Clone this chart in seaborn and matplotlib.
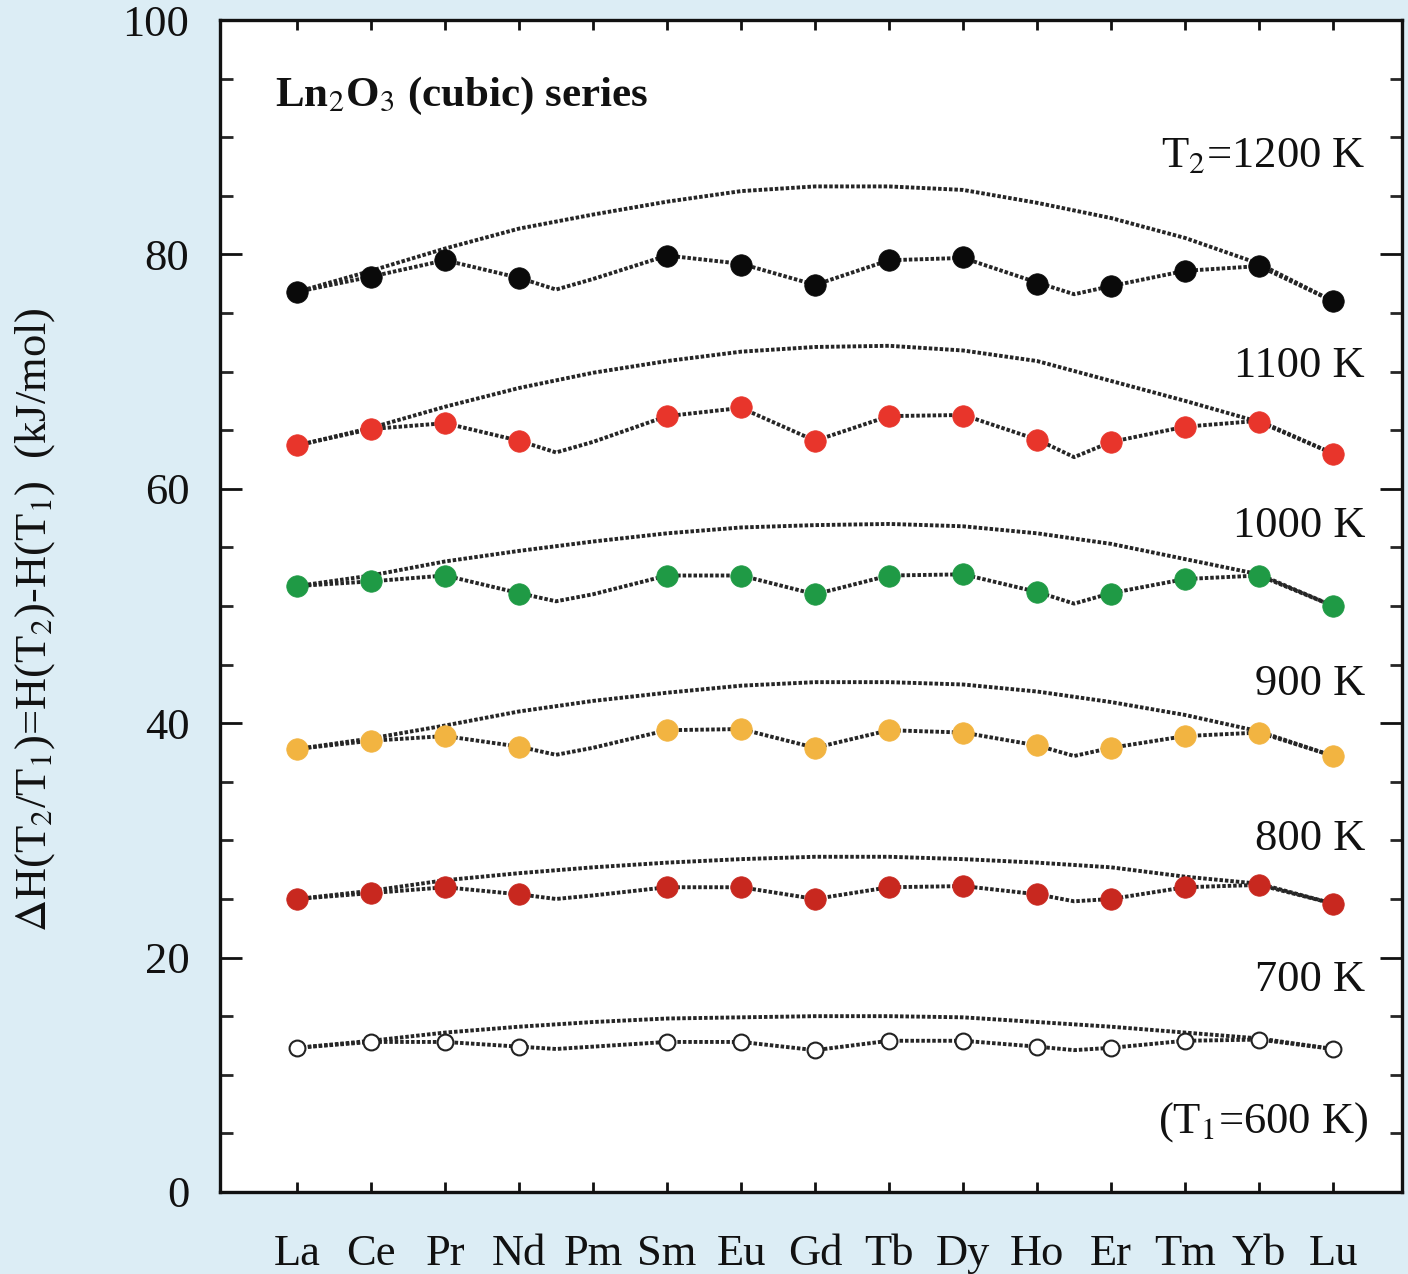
import numpy as np
import pandas as pd
import matplotlib
matplotlib.use("Agg")
import matplotlib.pyplot as plt
from matplotlib.ticker import FixedLocator, MultipleLocator
import seaborn as sns

# Lanthanide series (Pm has no measured point)
elements = ["La", "Ce", "Pr", "Nd", "Pm", "Sm", "Eu", "Gd",
            "Tb", "Dy", "Ho", "Er", "Tm", "Yb", "Lu"]
temps = [1200, 1100, 1000, 900, 800, 700]

# Enthalpy increments H(T2)-H(600 K), kJ/mol
pts_1200 = [76.8, 78.1, 79.5, 78.0, np.nan, 79.9, 79.1, 77.4, 79.5, 79.8, 77.5, 77.3, 78.6, 79.0, 76.0]
pts_1100 = [63.7, 65.1, 65.6, 64.1, np.nan, 66.2, 67.0, 64.1, 66.2, 66.2, 64.2, 64.0, 65.3, 65.7, 63.0]
pts_1000 = [51.7, 52.1, 52.6, 51.0, np.nan, 52.6, 52.6, 51.0, 52.6, 52.7, 51.2, 51.0, 52.3, 52.6, 50.0]
pts_900 = [37.8, 38.5, 38.9, 38.0, np.nan, 39.4, 39.5, 37.9, 39.4, 39.2, 38.1, 37.9, 38.9, 39.2, 37.2]
pts_800 = [25.0, 25.5, 26.0, 25.4, np.nan, 26.0, 26.0, 25.0, 26.0, 26.1, 25.4, 25.0, 26.0, 26.2, 24.6]
pts_700 = [12.3, 12.8, 12.8, 12.4, np.nan, 12.8, 12.8, 12.1, 12.9, 12.9, 12.4, 12.3, 12.9, 13.0, 12.2]

# Tetrad-effect fit, evaluated at the element positions and the tetrad boundaries
fit_x = [0, 1, 2, 3, 3.5, 4, 5, 6, 7, 8, 9, 10, 10.5, 11, 12, 13, 14]
fit_1200 = [76.8, 78.1, 79.5, 78.0, 77.0, 77.9, 79.9, 79.2, 77.4, 79.5, 79.7, 77.6, 76.6, 77.3, 78.6, 79.0, 76.0]
fit_1100 = [63.7, 65.1, 65.6, 64.1, 63.1, 64.0, 66.2, 66.9, 64.1, 66.2, 66.3, 64.2, 62.7, 64.0, 65.3, 65.8, 63.0]
fit_1000 = [51.7, 52.1, 52.6, 51.1, 50.4, 51.0, 52.6, 52.6, 51.0, 52.6, 52.7, 51.2, 50.2, 51.1, 52.3, 52.6, 50.0]
fit_900 = [37.8, 38.5, 38.9, 38.0, 37.3, 37.9, 39.4, 39.5, 37.9, 39.4, 39.2, 38.1, 37.2, 37.9, 38.9, 39.2, 37.2]
fit_800 = [25.0, 25.5, 26.0, 25.4, 25.0, 25.3, 26.0, 26.0, 25.0, 26.0, 26.1, 25.4, 24.8, 25.0, 26.0, 26.2, 24.6]
fit_700 = [12.3, 12.8, 12.8, 12.4, 12.2, 12.4, 12.8, 12.8, 12.1, 12.9, 12.9, 12.4, 12.1, 12.3, 12.9, 13.0, 12.2]

# Smooth baseline (no tetrad effect) across the whole series
base_1200 = [76.8, 78.6, 80.5, 82.2, 83.4, 84.5, 85.4, 85.8, 85.8, 85.5, 84.4, 83.1, 81.4, 79.2, 76.0]
base_1100 = [63.7, 65.2, 67.0, 68.6, 69.9, 70.9, 71.7, 72.1, 72.2, 71.8, 70.9, 69.2, 67.5, 65.7, 63.0]
base_1000 = [51.7, 52.6, 53.8, 54.7, 55.5, 56.2, 56.7, 56.9, 57.0, 56.8, 56.2, 55.3, 54.0, 52.7, 50.0]
base_900 = [37.8, 38.7, 39.8, 41.0, 41.9, 42.6, 43.2, 43.5, 43.5, 43.3, 42.7, 41.8, 40.7, 39.3, 37.2]
base_800 = [25.0, 25.7, 26.6, 27.2, 27.7, 28.1, 28.4, 28.6, 28.6, 28.4, 28.1, 27.7, 26.9, 26.3, 24.6]
base_700 = [12.3, 12.9, 13.6, 14.1, 14.5, 14.8, 14.9, 15.0, 15.0, 14.9, 14.5, 14.1, 13.6, 13.1, 12.2]

marker_face = ["#0a0a0a", "#e8352b", "#1f9a45", "#f2b441", "#c8281f", "#ffffff"]
curve_labels = ["T$_2$=1200 K", "1100 K", "1000 K", "900 K", "800 K", "700 K"]

points = [pts_1200, pts_1100, pts_1000, pts_900, pts_800, pts_700]
fits = [fit_1200, fit_1100, fit_1000, fit_900, fit_800, fit_700]
bases = [base_1200, base_1100, base_1000, base_900, base_800, base_700]

sns.set_theme(style="ticks")
plt.rcParams["font.family"] = ["Liberation Serif", "DejaVu Serif"]
plt.rcParams["mathtext.fontset"] = "stix"
plt.rcParams["axes.linewidth"] = 2.4

bg = "#dcedf5"
fig = plt.figure(figsize=(14.08, 12.74), dpi=100, facecolor=bg)
ax = fig.add_axes([0.15625, 0.0644, 0.8395, 0.9199])
ax.set_facecolor("white")

idx = np.arange(len(elements))
line_kw = dict(color="#262626", linewidth=2.8, linestyle=(0, (0.9, 0.5)))

for i, t in enumerate(temps):
    base_df = pd.DataFrame({"x": idx, "y": bases[i]})
    sns.lineplot(data=base_df, x="x", y="y", ax=ax, sort=False, zorder=2, **line_kw)
    fit_df = pd.DataFrame({"x": fit_x, "y": fits[i]})
    sns.lineplot(data=fit_df, x="x", y="y", ax=ax, sort=False, zorder=2, **line_kw)
    pt_df = pd.DataFrame({"x": idx, "y": points[i]}).dropna()
    if t == 700:
        sns.scatterplot(data=pt_df, x="x", y="y", ax=ax, s=130, color="white",
                        edgecolor="#222222", linewidth=1.5, zorder=3)
    else:
        sns.scatterplot(data=pt_df, x="x", y="y", ax=ax, s=240, color=marker_face[i],
                        edgecolor=marker_face[i], linewidth=0.5, zorder=3)

ax.set_xlim(-1.04, 14.93)
ax.set_ylim(0, 100)

ax.xaxis.set_major_locator(FixedLocator(idx))
ax.set_xticklabels(elements)
ax.xaxis.set_minor_locator(FixedLocator([0, 7, 14]))
ax.yaxis.set_major_locator(MultipleLocator(20))
ax.yaxis.set_minor_locator(MultipleLocator(5))

ax.tick_params(axis="x", which="major", direction="in", length=7, width=2.0,
               top=True, bottom=True, labelsize=32, pad=30, colors="#111111")
ax.tick_params(axis="x", which="minor", direction="in", length=16, width=2.0,
               top=True, bottom=True)
ax.tick_params(axis="y", which="major", direction="in", length=16, width=2.0,
               left=True, right=True, labelsize=32, pad=22, colors="#111111")
ax.tick_params(axis="y", which="minor", direction="in", length=9, width=2.0,
               left=True, right=True)

ax.set_xlabel("")
ax.set_ylabel(r"$\Delta$H(T$_2$/T$_1$)=H(T$_2$)-H(T$_1$)  (kJ/mol)", fontsize=32,
              color="#111111")
ax.yaxis.set_label_coords(-0.138, 0.488)

for spine in ax.spines.values():
    spine.set_visible(True)
    spine.set_color("#111111")

ax.text(-0.30, 93.5, "Ln$_2$O$_3$ (cubic) series", fontsize=31, fontweight="bold",
        ha="left", va="center", color="#111111")

label_y = [88.4, 70.5, 56.8, 43.3, 30.1, 18.1]
for lab, yy in zip(curve_labels, label_y):
    ax.text(14.43, yy, lab, fontsize=32, ha="right", va="center", color="#111111")
ax.text(14.47, 6.0, "(T$_1$=600 K)", fontsize=32, ha="right", va="center", color="#111111")

fig.savefig("out.png", dpi=100, facecolor=bg)
